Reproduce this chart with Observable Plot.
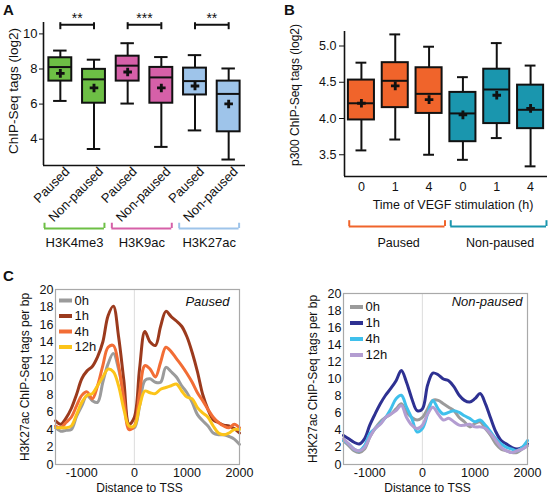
<!DOCTYPE html>
<html><head><meta charset="utf-8">
<script src="https://cdn.jsdelivr.net/npm/d3@7"></script>
<script src="https://cdn.jsdelivr.net/npm/@observablehq/plot@0.6"></script>
<style>
body{margin:0;background:#fff;}
#fig{position:relative;width:551px;height:500px;overflow:hidden;font-family:"Liberation Sans",Arial,sans-serif;color:#111;}
#fig > div.p{position:absolute;}
#fig svg{overflow:visible;}
.lab{position:absolute;font-weight:bold;font-size:15px;line-height:15px;}
</style></head><body><div id="fig"></div>
<script>
// ---------- Panel A: histone marks at paused / non-paused genes ----------
const aCats = ["Paused","Non-paused","Paused","Non-paused","Paused","Non-paused"];
const aMarkOf = ["H3K4me3","H3K4me3","H3K9ac","H3K9ac","H3K27ac","H3K27ac"];
const aWhiskerLow  = [6.18,3.44,6.03,3.56,4.50,2.84];
const aQ1          = [7.31,6.05,7.31,6.05,6.52,4.42];
const aMedian      = [8.11,7.41,8.19,7.52,7.31,6.58];
const aQ3          = [8.64,7.98,8.73,8.09,8.05,7.31];
const aWhiskerHigh = [9.05,8.53,9.47,8.68,8.79,8.03];
const aMean        = [7.75,6.92,7.83,6.92,7.03,6.01];
const aGroups = ["H3K4me3","H3K9ac","H3K27ac"];
const aGroupColors = ["#6dbf45","#d660a8","#9ec4ea"];
const aSig = ["**","***","**"];
const aYTicks = [4,6,8,10];

// ---------- Panel B: p300 over VEGF time course ----------
const bTimes = ["0","1","4","0","1","4"];
const bStatusOf = ["Paused","Paused","Paused","Non-paused","Non-paused","Non-paused"];
const bWhiskerLow  = [3.56,3.71,3.50,3.43,3.73,3.34];
const bQ1          = [3.98,4.15,4.07,3.68,3.93,3.86];
const bMedian      = [4.21,4.52,4.34,4.07,4.40,4.12];
const bQ3          = [4.53,4.77,4.70,4.36,4.68,4.46];
const bWhiskerHigh = [4.77,5.16,4.99,4.57,5.04,4.73];
const bMean        = [4.21,4.45,4.26,4.05,4.32,4.14];
const bGroups = ["Paused","Non-paused"];
const bGroupColors = ["#f0642b","#1a96ae"];
const bYTicks = [3.5,4.0,4.5,5.0];

// ---------- Panel C: H3K27ac profiles around TSS ----------
const cDistance = [-1500,-1400,-1300,-1200,-1100,-1000,-900,-800,-700,-600,-500,-400,-300,-200,-100,0,100,200,300,400,500,600,700,800,900,1000,1100,1200,1300,1400,1500,1600,1700,1800,1900,2000];
const cSeries = ["0h","1h","4h","12h"];
const cPaused0h  = [4.2,3.8,3.9,4.0,5.5,6.7,7.9,7.3,7.1,9.4,11.5,12.7,10.9,7.9,4.4,4.2,6.7,9.6,9.8,9.4,9.4,11.1,10.6,10.0,9.0,8.2,7.1,5.7,5.0,4.4,3.6,3.4,3.4,3.2,2.9,2.3];
const cPaused1h  = [5.0,4.6,5.3,6.4,8.0,9.8,10.7,11.2,12.3,14.0,17.0,18.1,14.6,9.6,4.6,5.4,11.0,15.2,14.0,13.6,15.8,17.5,16.9,16.4,15.8,14.6,12.8,10.6,8.0,6.3,5.1,4.8,4.5,4.4,4.1,3.6];
const cPaused4h  = [4.4,4.2,4.8,5.4,6.7,7.9,8.3,7.5,9.0,11.3,13.4,13.6,11.3,7.5,4.0,4.4,8.2,11.3,10.9,10.0,11.7,13.4,12.9,12.1,11.3,10.4,9.4,8.2,7.3,6.3,5.4,4.8,4.4,4.2,4.6,4.2];
const cPaused12h = [4.2,4.2,4.2,4.4,5.7,7.1,7.9,8.1,9.0,10.0,10.9,10.6,9.0,6.3,4.4,4.4,6.7,8.4,8.2,8.1,8.6,8.8,9.0,9.2,8.4,7.7,7.5,6.5,5.9,5.4,4.4,3.6,3.4,3.6,4.0,4.0];
const cNon0h  = [2.8,2.2,1.6,1.4,1.8,3.2,4.2,5.0,5.5,5.9,6.5,7.1,6.1,5.5,5.2,5.5,6.5,7.5,7.5,7.1,6.7,6.3,5.5,5.0,4.4,4.8,5.0,4.2,3.4,2.4,1.8,1.6,1.4,1.4,1.8,2.2];
const cNon1h  = [3.4,3.0,2.6,2.4,3.0,4.6,5.9,7.1,8.1,8.9,9.8,11.0,9.6,7.7,6.3,6.5,9.3,10.7,10.5,10.0,9.8,9.1,8.1,7.5,7.3,7.7,8.3,7.1,5.4,3.8,2.8,2.4,2.0,1.8,2.0,2.4];
const cNon4h  = [2.8,2.4,1.8,1.6,2.2,3.6,4.2,4.8,5.5,6.5,7.7,8.1,6.7,5.4,3.8,4.2,5.9,7.5,6.5,5.9,6.1,6.3,6.1,5.7,5.4,5.0,5.2,4.6,3.8,3.0,2.4,2.0,1.8,1.6,2.0,2.8];
const cNon12h = [3.0,2.4,1.8,1.6,2.0,3.2,4.2,4.7,5.5,5.9,6.3,6.9,5.5,4.6,4.2,4.6,5.9,6.7,5.9,5.2,5.4,5.0,4.6,4.6,4.7,4.4,4.4,4.2,3.6,2.8,2.0,1.6,1.4,1.6,1.8,2.2];
const cPausedColors = ["#9b9b9b","#9b3a1d","#f26d35","#fcc419"];
const cNonColors = ["#9b9b9b","#2e3192","#3fc0ec","#b39dd1"];
const cYTicks = [0,2,4,6,8,10,12,14,16,18,20];
const cXTicks = [-1000,0,1000,2000];

// ---------- helpers ----------
const FONT = '"Liberation Sans", Arial, sans-serif';
const INK = "#111";
const idx = d3.range(6);

function boxMarks(lo, q1, md, q3, hi, mn, fills, hw, cap) {
  const s = {stroke: INK, strokeWidth: 2};
  return [
    Plot.ruleX(idx, {x: i => i, y1: i => lo[i], y2: i => q1[i], ...s}),
    Plot.ruleX(idx, {x: i => i, y1: i => q3[i], y2: i => hi[i], ...s}),
    Plot.ruleY(idx, {y: i => lo[i], x1: i => i - cap, x2: i => i + cap, ...s}),
    Plot.ruleY(idx, {y: i => hi[i], x1: i => i - cap, x2: i => i + cap, ...s}),
    Plot.rect(idx, {x1: i => i - hw, x2: i => i + hw, y1: i => q1[i], y2: i => q3[i], fill: i => fills[i], ...s}),
    Plot.ruleY(idx, {y: i => md[i], x1: i => i - hw, x2: i => i + hw, ...s}),
    Plot.dot(idx, {x: i => i, y: i => mn[i], symbol: "cross", fill: INK, r: 3.6})
  ];
}

function place(node, left, top) {
  const d = document.createElement("div");
  d.className = "p";
  d.style.left = left + "px";
  d.style.top = top + "px";
  d.appendChild(node);
  document.getElementById("fig").appendChild(d);
}
function letter(t, left, top) {
  const d = document.createElement("div");
  d.className = "lab"; d.textContent = t;
  d.style.left = left + "px"; d.style.top = top + "px";
  document.getElementById("fig").appendChild(d);
}

// ---------- Panel A ----------
const aX = [-0.5, 5.5];
const aY = [2.5, 10.65];
const aFills = idx.map(i => aGroupColors[aGroups.indexOf(aMarkOf[i])]);
const sigLevel = aY[1] - 0.13;
const plotA = Plot.plot({
  width: 275, height: 260, marginLeft: 43, marginRight: 30, marginTop: 22, marginBottom: 95,
  x: {domain: aX}, y: {domain: aY},
  style: {fontFamily: FONT, fontSize: "13px", color: INK, background: "transparent"},
  marks: [
    ...boxMarks(aWhiskerLow, aQ1, aMedian, aQ3, aWhiskerHigh, aMean, aFills, 0.34, 0.2),
    Plot.ruleX([aX[0]], {stroke: INK, strokeWidth: 1.6}),
    Plot.ruleY([aY[0]], {stroke: INK, strokeWidth: 1.6}),
    Plot.axisY({ticks: aYTicks, tickSize: 4, tickPadding: 2, fontSize: 13, label: null}),
    Plot.axisX({ticks: idx, tickFormat: i => aCats[i], tickSize: 0, tickPadding: 4, tickRotate: -45, fontSize: 13, dx: 7, label: null}),
    Plot.text(["ChIP-Seq tags (log2)"], {frameAnchor: "left", textAnchor: "middle", rotate: -90, dx: -30, dy: -3, fontSize: 13.5}),
    // significance brackets
    Plot.ruleY([0,1,2], {y: sigLevel, x1: g => 2*g, x2: g => 2*g + 1, stroke: INK, strokeWidth: 2}),
    Plot.ruleX([0,1,2], {x: g => 2*g, y1: sigLevel - 0.28, y2: sigLevel + 0.12, stroke: INK, strokeWidth: 2}),
    Plot.ruleX([0,1,2], {x: g => 2*g + 1, y1: sigLevel - 0.28, y2: sigLevel + 0.12, stroke: INK, strokeWidth: 2}),
    Plot.text([0,1,2], {x: g => 2*g + 0.5, y: sigLevel, text: g => aSig[g], dy: -2, lineAnchor: "bottom", fontSize: 14}),
    // group brackets
    Plot.ruleY([0,1,2], {y: aY[0], x1: g => 2*g - 0.47, x2: g => 2*g + 1.31, stroke: g => aGroupColors[g], strokeWidth: 2, dy: 63}),
    Plot.ruleX([0,1,2], {x: g => 2*g - 0.47, y1: aY[0], y2: aY[0] + 0.3, stroke: g => aGroupColors[g], strokeWidth: 2, dy: 63}),
    Plot.ruleX([0,1,2], {x: g => 2*g + 1.31, y1: aY[0], y2: aY[0] + 0.3, stroke: g => aGroupColors[g], strokeWidth: 2, dy: 63}),
    Plot.text([0,1,2], {x: g => 2*g + 0.42, y: aY[0], text: g => aGroups[g], dy: 77, fontSize: 13, fill: INK})
  ]
});
place(plotA, 0, 0);

// ---------- Panel B ----------
const bX = [-0.5, 5.5];
const bY = [3.2, 5.2];
const bFills = idx.map(i => bGroupColors[bGroups.indexOf(bStatusOf[i])]);
const plotB = Plot.plot({
  width: 271, height: 260, marginLeft: 64, marginRight: 4, marginTop: 31, marginBottom: 84,
  x: {domain: bX}, y: {domain: bY},
  style: {fontFamily: FONT, fontSize: "12px", color: INK, background: "transparent"},
  marks: [
    ...boxMarks(bWhiskerLow, bQ1, bMedian, bQ3, bWhiskerHigh, bMean, bFills, 0.385, 0.16),
    Plot.ruleX([bX[0]], {stroke: INK, strokeWidth: 1.6}),
    Plot.ruleY([bY[0]], {stroke: INK, strokeWidth: 1.6}),
    Plot.axisY({ticks: bYTicks, tickFormat: d3.format(".1f"), tickSize: 5, tickPadding: 3, fontSize: 12.5, label: null}),
    Plot.axisX({ticks: idx, tickFormat: i => bTimes[i], tickSize: 0, tickPadding: 6, fontSize: 12.5, label: null}),
    Plot.text(["Time of VEGF stimulation (h)"], {frameAnchor: "bottom", dy: 32, dx: 7, fontSize: 12.5}),
    Plot.text(["p300 ChIP-Seq tags (log2)"], {frameAnchor: "left", textAnchor: "middle", rotate: -90, dx: -49, dy: -9, fontSize: 12}),
    Plot.ruleY([0,1], {y: bY[0], x1: g => 3*g - 0.36, x2: g => 3*g + 2.47, stroke: g => bGroupColors[g], strokeWidth: 2, dy: 50}),
    Plot.ruleX([0,1], {x: g => 3*g - 0.36, y1: bY[0], y2: bY[0] + 0.08, stroke: g => bGroupColors[g], strokeWidth: 2, dy: 50}),
    Plot.ruleX([0,1], {x: g => 3*g + 2.47, y1: bY[0], y2: bY[0] + 0.08, stroke: g => bGroupColors[g], strokeWidth: 2, dy: 50}),
    Plot.text([0,1], {x: g => 3*g + 1.1, y: bY[0], text: g => bGroups[g], dy: 66, fontSize: 12.5, fill: INK})
  ]
});
place(plotB, 280, 0);

// ---------- Panel C ----------
const dashSymbol = {draw(ctx) { ctx.moveTo(-6.5, 0); ctx.lineTo(6.5, 0); }};
function profile({series, colors, title, mL, mR, mT, legDx, legDy, legStep, titleDx, titleDy, xTitleDx}) {
  const rows = [];
  series.forEach((arr, s) => arr.forEach((v, i) => rows.push({d: cDistance[i], v, s})));
  const legend = cSeries.flatMap((lab, s) => [
    Plot.dot([lab], {frameAnchor: "top-left", dx: legDx, dy: legDy + s * legStep, symbol: dashSymbol, stroke: colors[s], strokeWidth: 4, r: 6}),
    Plot.text([lab], {frameAnchor: "top-left", dx: legDx + 9, dy: legDy + s * legStep, textAnchor: "start", lineAnchor: "middle", fontSize: 13, fill: INK})
  ]);
  return Plot.plot({
    width: mL + mR + 184, height: 240, marginLeft: mL, marginRight: mR, marginTop: mT, marginBottom: 36,
    x: {domain: [-1500, 2000]}, y: {domain: [0, 20]},
    style: {fontFamily: FONT, fontSize: "12px", color: INK, background: "transparent"},
    marks: [
      Plot.ruleX([0], {stroke: "#dcdcdc", strokeWidth: 1}),
      Plot.line(rows, {x: "d", y: "v", z: "s", stroke: r => colors[r.s], strokeWidth: 3, curve: "catmull-rom", strokeLinejoin: "round"}),
      Plot.frame({stroke: "#a9a9a9", strokeWidth: 1.2}),
      Plot.axisY({ticks: cYTicks, tickFormat: d => String(d), tickSize: 0, tickPadding: 2, fontSize: 12.5, label: null}),
      Plot.axisX({ticks: cXTicks, tickFormat: d => String(d), tickSize: 0, tickPadding: 4, fontSize: 12.5, label: null}),
      Plot.text(["Distance to TSS"], {frameAnchor: "bottom", dy: 27, dx: xTitleDx, fontSize: 12}),
      Plot.text(["H3K27ac ChIP-Seq tags per bp"], {frameAnchor: "left", textAnchor: "middle", rotate: -90, dx: -30, fontSize: 12}),
      Plot.text([title], {frameAnchor: "top-right", dx: titleDx, dy: titleDy, textAnchor: "end", lineAnchor: "middle", fontStyle: "italic", fontSize: 13}),
      ...legend
    ]
  });
}
place(profile({series: [cPaused0h, cPaused1h, cPaused4h, cPaused12h], colors: cPausedColors, title: "Paused",
  mL: 55, mR: 36, mT: 29, legDx: 10, legDy: 11, legStep: 15.5, titleDx: -10, titleDy: 12.5, xTitleDx: -8}), 0, 260);
place(profile({series: [cNon0h, cNon1h, cNon4h, cNon12h], colors: cNonColors, title: "Non-paused",
  mL: 63, mR: 24, mT: 33, legDx: 13, legDy: 13.5, legStep: 16, titleDx: -5, titleDy: 8.5, xTitleDx: -8}), 280, 260);

letter("A", 3, 2);
letter("B", 284, 2);
letter("C", 3, 268);
</script></body></html>
